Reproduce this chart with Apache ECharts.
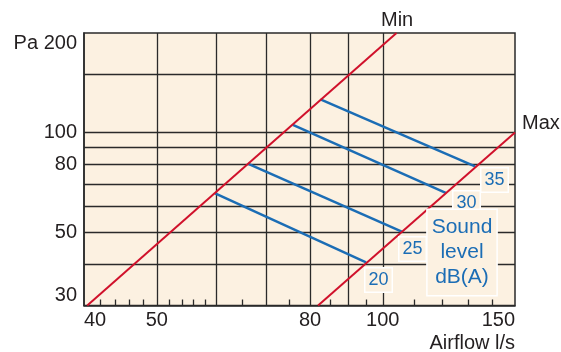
<!DOCTYPE html>
<html>
<head>
<meta charset="utf-8">
<script src="https://cdn.jsdelivr.net/npm/echarts@6/dist/echarts.min.js"></script>
<style>
html,body{margin:0;padding:0;background:#fff;}
#chart{width:561px;height:352px;}
</style>
</head>
<body>
<div id="chart"></div>
<script>
// ---- data ----
const xLabelValues = [40, 50, 80, 100, 150];
const xGridValues = [50, 60, 70, 80, 90, 100];
const xMinorTicks = [42, 44, 46, 48, 52, 54, 56, 58, 65, 75, 85, 95, 110, 120, 130, 140];
const yLabelValues = [30, 50, 80, 100, 200];
const yGridValues = [40, 50, 60, 70, 80, 90, 100, 150];
const minLine = [[40.4, 30], [104.3, 200]];
const maxLine = [[82, 30], [150, 100]];
const sound20 = [[59.8, 65.5], [95, 40.5]];
const sound25 = [[66.1, 80.5], [106, 50.2]];
const sound30 = [[75.9, 105.5], [121.5, 65.6]];
const sound35 = [[82.6, 126], [132.7, 79]];
const soundLabels = ['20', '25', '30', '35'];

const FONT = '"Liberation Sans", Arial, Helvetica, sans-serif';
const TXT = '#231f20';
const BLUE = '#1b6db5';
const RED = '#d0112b';
const BG = '#fcf1e1';
const GRIDC = '#2a2a2a';

const chart = echarts.init(document.getElementById('chart'), null, {renderer: 'canvas'});

function blue(data) {
  return {type: 'line', data: data, showSymbol: false, symbol: 'none',
    lineStyle: {color: BLUE, width: 2.5}, z: 3, silent: true, animation: false};
}
function red(data) {
  return {type: 'line', data: data, showSymbol: false, symbol: 'none',
    lineStyle: {color: RED, width: 2}, z: 4, silent: true, animation: false};
}
function box(text, x, y) {
  return {type: 'text', left: x, top: y, z: 10,
    style: {text: text, fill: BLUE, font: '18px ' + FONT,
      backgroundColor: BG, borderColor: '#fff', borderWidth: 1.5, padding: [3, 3, 2, 3]}};
}

const option = {
  animation: false,
  backgroundColor: '#fff',
  grid: {left: 84, right: 46, top: 33, bottom: 46.5, show: true,
    backgroundColor: BG, borderColor: GRIDC, borderWidth: 1.5},
  xAxis: [
    {type: 'log', logBase: 10, min: 40, max: 150, position: 'bottom',
      axisLine: {show: true, lineStyle: {color: GRIDC, width: 1.5}},
      axisTick: {show: false, customValues: xGridValues},
      splitLine: {show: true, lineStyle: {color: GRIDC, width: 1.3}},
      axisLabel: {customValues: xLabelValues, margin: 5, color: TXT,
        fontSize: 20, fontFamily: FONT, alignMinLabel: 'left', alignMaxLabel: 'right'}},
    {type: 'log', logBase: 10, min: 40, max: 150, position: 'bottom',
      axisLine: {show: false},
      axisTick: {show: true, inside: true, length: 6, customValues: xMinorTicks,
        lineStyle: {color: GRIDC, width: 1.3}},
      splitLine: {show: false},
      axisLabel: {show: false}}
  ],
  yAxis: [
    {type: 'log', logBase: 10, min: 30, max: 200,
      axisLine: {show: true, lineStyle: {color: GRIDC, width: 1.5}},
      axisTick: {show: false, customValues: yGridValues},
      splitLine: {show: true, lineStyle: {color: GRIDC, width: 1.3}},
      axisLabel: {customValues: yLabelValues, margin: 7, color: TXT,
        fontSize: 20, fontFamily: FONT,
        verticalAlignMinLabel: 'bottom', verticalAlignMaxLabel: 'top',
        formatter: function (v) { return v === 200 ? 'Pa 200' : String(v); }}}
  ],
  series: [
    blue(sound20), blue(sound25), blue(sound30), blue(sound35),
    red(minLine), red(maxLine)
  ],
  graphic: [
    {type: 'text', left: 381, top: 10, z: 10,
      style: {text: 'Min', fill: TXT, font: '20px ' + FONT}},
    {type: 'text', left: 522, top: 113, z: 10,
      style: {text: 'Max', fill: TXT, font: '20px ' + FONT}},
    {type: 'text', right: 46, top: 333, z: 10,
      style: {text: 'Airflow l/s', fill: TXT, font: '20px ' + FONT}},
    box(soundLabels[3], 480, 167),
    box(soundLabels[2], 452, 190),
    box(soundLabels[1], 398, 236),
    box(soundLabels[0], 364, 267),
    {type: 'text', x: 462, y: 210, z: 10,
      style: {text: 'Sound\nlevel\ndB(A)', fill: BLUE, font: '21px ' + FONT,
        align: 'center', verticalAlign: 'top', lineHeight: 25,
        backgroundColor: BG, borderColor: '#fff', borderWidth: 1.5,
        padding: [5, 4, 5, 4]}}
  ]
};
chart.setOption(option);
</script>
</body>
</html>
